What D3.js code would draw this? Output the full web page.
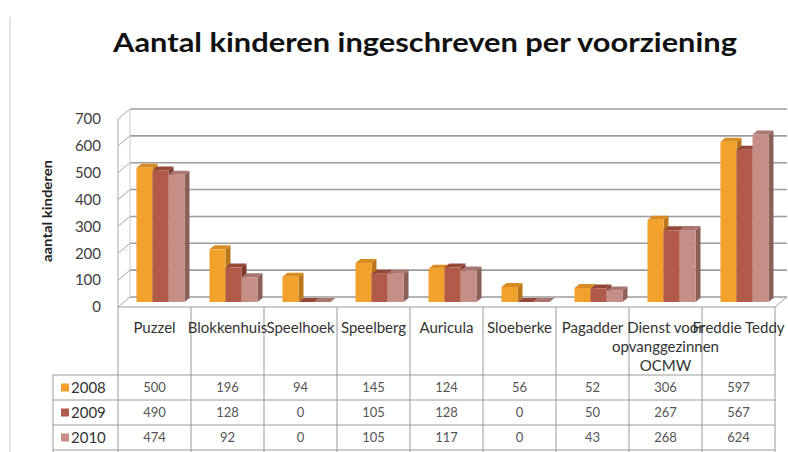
<!DOCTYPE html>
<html>
<head>
<meta charset="utf-8">
<script src="https://cdn.jsdelivr.net/npm/d3@7"></script>
<style>
  body { margin: 0; background: #fff; }
  svg { display: block; font-family: Lato, "Open Sans", sans-serif; }
</style>
</head>
<body>
<svg id="chart"></svg>
<script>
// data
var categories = ["Puzzel", "Blokkenhuis", "Speelhoek", "Speelberg", "Auricula",
                  "Sloeberke", "Pagadder", "Dienst voor opvanggezinnen OCMW", "Freddie Teddy"];
var categoryLines = [["Puzzel"], ["Blokkenhuis"], ["Speelhoek"], ["Speelberg"], ["Auricula"],
                     ["Sloeberke"], ["Pagadder"], ["Dienst voor", "opvanggezinnen", "OCMW"], ["Freddie Teddy"]];
var years = ["2008", "2009", "2010"];
var values2008 = [500, 196, 94, 145, 124, 56, 52, 306, 597];
var values2009 = [490, 128, 0, 105, 128, 0, 50, 267, 567];
var values2010 = [474, 92, 0, 105, 117, 0, 43, 268, 624];
var yTicks = [0, 100, 200, 300, 400, 500, 600, 700];

var width = 788,
    height = 452;

var svg = d3.select("#chart")
    .attr("width", width)
    .attr("height", height);

// colours: front, side, top
var colors = {
  "2008": ["#f2a22c", "#b9761a", "#d88c22"],
  "2009": ["#b25a4a", "#7e3a2e", "#94483a"],
  "2010": ["#c58f87", "#8e5f58", "#a97670"]
};

var series = years.map(function(y, i) {
  return { year: y, values: [values2008, values2009, values2010][i] };
});

// front plane scales
var x = d3.scaleBand()
    .domain(categories)
    .range([118, 775]);

var y = d3.scaleLinear()
    .domain([0, 700])
    .range([307, 119]);

var wallDx = 12, wallDy = -10;   // depth of the 3d box
var barDx = 5, barDy = -4;       // depth of a single column

var x1 = d3.scaleBand()
    .domain(years)
    .range([0, 48]);

// border at the left
svg.append("line")
    .attr("x1", 10).attr("x2", 10)
    .attr("y1", 17).attr("y2", height)
    .style("stroke", "#c8c8c8");

// title
svg.append("text")
    .attr("x", 425)
    .attr("y", 52)
    .attr("text-anchor", "middle")
    .attr("textLength", 624)
    .attr("lengthAdjust", "spacingAndGlyphs")
    .style("font-size", "26px")
    .style("font-weight", "bold")
    .style("fill", "#111")
    .text("Aantal kinderen ingeschreven per voorziening");

// back wall gridlines
var grid = svg.append("g").attr("class", "grid");
grid.selectAll("line.back")
    .data(yTicks)
  .enter().append("line")
    .attr("x1", x.range()[0] + wallDx)
    .attr("x2", x.range()[1] + wallDx)
    .attr("y1", function(d) { return y(d) + wallDy; })
    .attr("y2", function(d) { return y(d) + wallDy; })
    .style("stroke", "#9c9c9c")
    .style("stroke-width", 1.6);

// side wall slants
grid.selectAll("line.side")
    .data(yTicks)
  .enter().append("line")
    .attr("x1", x.range()[0])
    .attr("x2", x.range()[0] + wallDx)
    .attr("y1", function(d) { return y(d); })
    .attr("y2", function(d) { return y(d) + wallDy; })
    .style("stroke", "#a6a6a6");

// wall edges
grid.append("line")
    .attr("x1", x.range()[0]).attr("x2", x.range()[0])
    .attr("y1", y(0)).attr("y2", y(700))
    .style("stroke", "#a6a6a6");
grid.append("line")
    .attr("x1", x.range()[0] + wallDx).attr("x2", x.range()[0] + wallDx)
    .attr("y1", y(0) + wallDy).attr("y2", y(700) + wallDy)
    .style("stroke", "#c8c8c8");
grid.append("line")
    .attr("x1", x.range()[1]).attr("x2", x.range()[1] + wallDx)
    .attr("y1", y(0)).attr("y2", y(0) + wallDy)
    .style("stroke", "#a6a6a6");

// y axis labels
svg.append("g")
  .selectAll("text")
    .data(yTicks)
  .enter().append("text")
    .attr("x", 101)
    .attr("y", function(d) { return y(d); })
    .attr("dy", "0.35em")
    .attr("text-anchor", "end")
    .style("font-size", "15px")
    .style("fill", "#404040")
    .text(function(d) { return d; });

svg.append("text")
    .attr("transform", "translate(52," + (y(350) - 2) + ") rotate(-90)")
    .attr("text-anchor", "middle")
    .attr("textLength", 102)
    .attr("lengthAdjust", "spacingAndGlyphs")
    .style("font-size", "14px")
    .style("font-weight", "bold")
    .style("fill", "#222")
    .text("aantal kinderen");

// 3d columns
function pts(a) { return a.map(function(p) { return p.join(","); }).join(" "); }

var bars = svg.append("g").attr("class", "bars");
categories.forEach(function(cat, ci) {
  var gx = x(cat) + (x.bandwidth() - 48) / 2 + wallDx / 2;
  series.forEach(function(s) {
    var v = s.values[ci],
        x0 = gx + x1(s.year),
        w = x1.bandwidth(),
        yb = y(0) + wallDy / 2,
        yt = y(v) + wallDy / 2,
        c = colors[s.year];
    var g = bars.append("g");
    g.append("polygon")
        .attr("points", pts([[x0 + w, yt], [x0 + w + barDx, yt + barDy], [x0 + w + barDx, yb + barDy], [x0 + w, yb]]))
        .style("fill", c[1]);
    g.append("polygon")
        .attr("points", pts([[x0, yt], [x0 + barDx, yt + barDy], [x0 + w + barDx, yt + barDy], [x0 + w, yt]]))
        .style("fill", c[2]);
    if (v > 0) {
      g.append("rect")
          .attr("x", x0)
          .attr("y", yt)
          .attr("width", w)
          .attr("height", yb - yt)
          .style("fill", c[0]);
    }
  });
});

// data table
var table = svg.append("g").attr("class", "table").style("stroke", "#9a9a9a");
var rowTop = 375, rowH = 25;

table.append("line")
    .attr("x1", x.range()[0]).attr("x2", x.range()[1])
    .attr("y1", y(0)).attr("y2", y(0));
table.selectAll("line.col")
    .data(categories.map(function(c) { return x(c); }).concat([x.range()[1]]))
  .enter().append("line")
    .attr("x1", function(d) { return d; })
    .attr("x2", function(d) { return d; })
    .attr("y1", y(0))
    .attr("y2", height);
table.append("line")
    .attr("x1", 53).attr("x2", 53)
    .attr("y1", rowTop).attr("y2", height);
table.selectAll("line.row")
    .data(d3.range(years.length + 1))
  .enter().append("line")
    .attr("x1", 53).attr("x2", x.range()[1])
    .attr("y1", function(d) { return rowTop + d * rowH; })
    .attr("y2", function(d) { return rowTop + d * rowH; });

// category labels
var labels = svg.append("g")
  .selectAll("text")
    .data(categories)
  .enter().append("text")
    .attr("x", function(d) { return x(d) + x.bandwidth() / 2; })
    .attr("y", 333)
    .attr("text-anchor", "middle")
    .style("font-size", "15px")
    .style("fill", "#333");
labels.each(function(d, i) {
  var t = d3.select(this);
  categoryLines[i].forEach(function(line, li) {
    t.append("tspan")
        .attr("x", x(d) + x.bandwidth() / 2)
        .attr("dy", li === 0 ? 0 : 19)
        .text(line);
  });
});

// legend cells and values
series.forEach(function(s, ri) {
  var cy = rowTop + ri * rowH + rowH / 2;
  svg.append("rect")
      .attr("x", 61).attr("y", cy - 4)
      .attr("width", 8).attr("height", 8)
      .style("fill", colors[s.year][0]);
  svg.append("text")
      .attr("x", 71).attr("y", cy)
      .attr("dy", "0.35em")
      .style("font-size", "15px")
      .style("fill", "#333")
      .text(s.year);
  svg.append("g")
    .selectAll("text")
      .data(s.values)
    .enter().append("text")
      .attr("x", function(d, i) { return x(categories[i]) + x.bandwidth() / 2; })
      .attr("y", cy)
      .attr("dy", "0.35em")
      .attr("text-anchor", "middle")
      .style("font-size", "13px")
      .style("fill", "#555")
      .text(function(d) { return d; });
});
</script>
</body>
</html>
